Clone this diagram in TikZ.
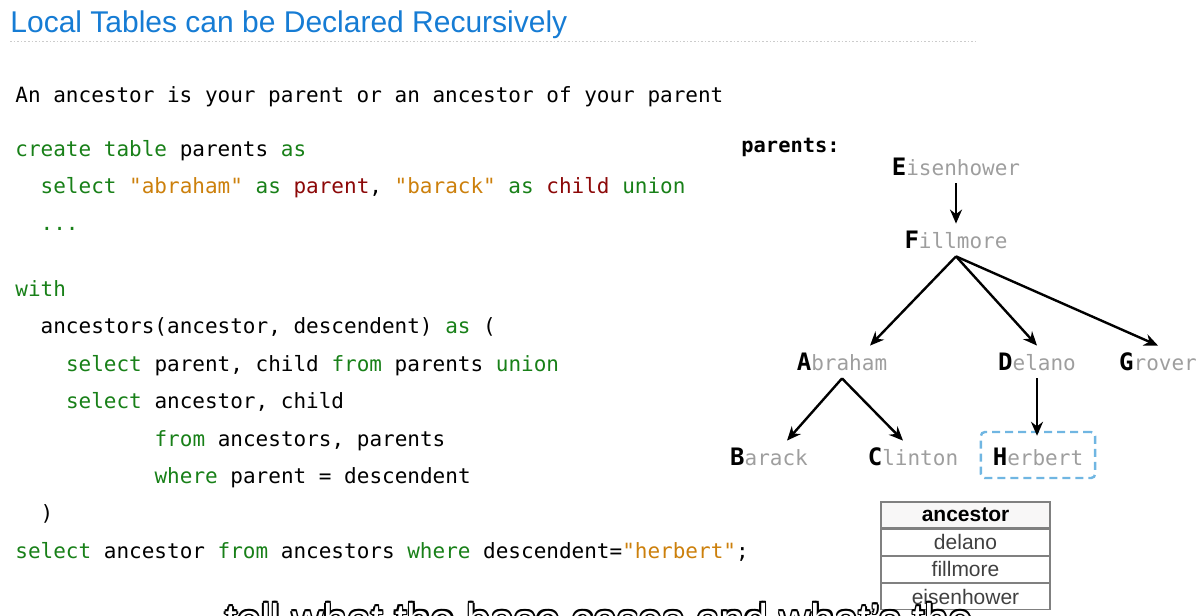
\documentclass[tikz,border=0pt]{standalone}
\usepackage{fontspec}
\setmainfont{Liberation Sans}
\setsansfont{Liberation Sans}
\setmonofont{DejaVu Sans Mono}
\usepackage{xcolor}
\usepackage{tikz}
\usetikzlibrary{arrows.meta,positioning,calc}

\definecolor{titleblue}{RGB}{22,124,212}
\definecolor{kwgreen}{RGB}{24,128,24}
\definecolor{strorange}{RGB}{204,128,12}
\definecolor{colred}{RGB}{140,8,8}
\definecolor{namegray}{RGB}{158,158,158}
\definecolor{herbblue}{RGB}{112,182,226}
\definecolor{tabgray}{RGB}{128,128,128}

\newcommand{\sqlkw}[1]{\textcolor{kwgreen}{#1}}
\newcommand{\sqlstr}[1]{\textcolor{strorange}{#1}}
\newcommand{\sqlcol}[1]{\textcolor{colred}{#1}}
\newcommand{\who}[2]{{\fontsize{12}{12}\selectfont\bfseries #1}\textcolor{namegray}{#2}}
\newcommand{\capttext}{tell what the base cases and what's the}

\tikzset{
  code/.style={anchor=base west, inner sep=0pt, font=\ttfamily\fontsize{10.5}{12}\selectfont},
  person/.style={anchor=base, inner sep=4pt, text height=8pt, text depth=0pt,
    font=\ttfamily\fontsize{10.5}{12}\selectfont},
  arr/.style={-{Stealth[length=7pt,width=6pt]}, line width=1.2pt},
  cell/.style={draw=tabgray, line width=0.6pt, minimum width=84.5pt, minimum height=13pt,
    inner sep=0pt, text=black!75, font=\fontsize{10.5}{12}\selectfont},
  capt/.style={anchor=base west, inner sep=0pt, font=\fontsize{21.5}{22}\selectfont}
}

\begin{document}
\begin{tikzpicture}[x=0.5pt,y=-0.5pt]
    \useasboundingbox (0,0) rectangle (1202,615);

    % Title
    \node[anchor=base west, inner sep=0pt, text=titleblue, font=\fontsize{15}{18}\selectfont]
      (title) at (10,33) {Local Tables can be Declared Recursively};
    \draw[black!20, line width=0.5pt, dash pattern=on 0.8pt off 1pt] (10,42) -- (975,42);

    % Code
    \node[code] (intro) at (15,103) {An ancestor is your parent or an ancestor of your parent};
    \node[code] (create) at (15,156) {\sqlkw{create table} parents \sqlkw{as}};
    \node[code] (sel1) at (40.3,193) {\sqlkw{select} \sqlstr{"abraham"} \sqlkw{as} \sqlcol{parent}, \sqlstr{"barack"} \sqlkw{as} \sqlcol{child} \sqlkw{union}};
    \node[code] (dots) at (40.3,230) {\sqlkw{...}};
    \node[code] (with) at (15,296) {\sqlkw{with}};
    \node[code] (anc) at (40.3,333) {ancestors(ancestor, descendent) \sqlkw{as} (};
    \node[code] (sel2) at (65.6,371) {\sqlkw{select} parent, child \sqlkw{from} parents \sqlkw{union}};
    \node[code] (sel3) at (65.6,408) {\sqlkw{select} ancestor, child};
    \node[code] (from) at (154.2,446) {\sqlkw{from} ancestors, parents};
    \node[code] (where) at (154.2,483) {\sqlkw{where} parent = descendent};
    \node[code] (close) at (40.3,520) {)};
    \node[code] (query) at (15,558) {\sqlkw{select} ancestor \sqlkw{from} ancestors \sqlkw{where} descendent=\sqlstr{"herbert"};};

    % Tree of parents
    \node[code, font=\ttfamily\bfseries\fontsize{10.2}{12}\selectfont] (plabel) at (741,152) {parents:};
    \node[person] (eisen) at (956,175) {\who{E}{isenhower}};
    \node[person] (fill) at (956,248) {\who{F}{illmore}};
    \node[person] (abe) at (842,370) {\who{A}{braham}};
    \node[person] (del) at (1037,370) {\who{D}{elano}};
    \node[person] (grov) at (1158,370) {\who{G}{rover}};
    \node[person] (bar) at (769,465) {\who{B}{arack}};
    \node[person] (clin) at (913,465) {\who{C}{linton}};
    \node[person, draw=herbblue, line width=1.2pt, dash pattern=on 4pt off 2.5pt,
      rounded corners=2pt, inner xsep=6pt, inner ysep=6.5pt, text height=10pt]
      (herb) at (1038,465) {\who{H}{erbert}};

    \draw[arr] (eisen) -- (fill);
    \draw[arr] (fill.south) -- ([xshift=14pt]abe.north);
    \draw[arr] (fill.south) -- (del.north);
    \draw[arr] (fill.south) -- (grov.north);
    \draw[arr] (abe.south) -- ([xshift=9pt]bar.north);
    \draw[arr] (abe.south) -- ([xshift=-5pt]clin.north);
    \draw[arr, shorten >=-2.5pt] (del.south) -- (del.south |- herb.north);

    % Result table
    \node[cell, fill=red!3!black!3, text=black, font=\bfseries\fontsize{10.5}{12}\selectfont]
      (anchead) at (965.5,515) {ancestor};
    \node[cell, below=0pt of anchead] (anc1) {delano};
    \node[cell, below=0pt of anc1] (anc2) {fillmore};
    \node[cell, below=0pt of anc2] (anc3) {eisenhower};

    % Caption, cut off at the bottom
    \foreach \a in {0,45,...,315}
      \node[capt, text=black] (capt\a) at ([shift={(\a:1.6)}] 225,634) {\capttext};
    \node[capt, text=white] (capt) at (225,634) {\capttext};
\end{tikzpicture}
\end{document}
